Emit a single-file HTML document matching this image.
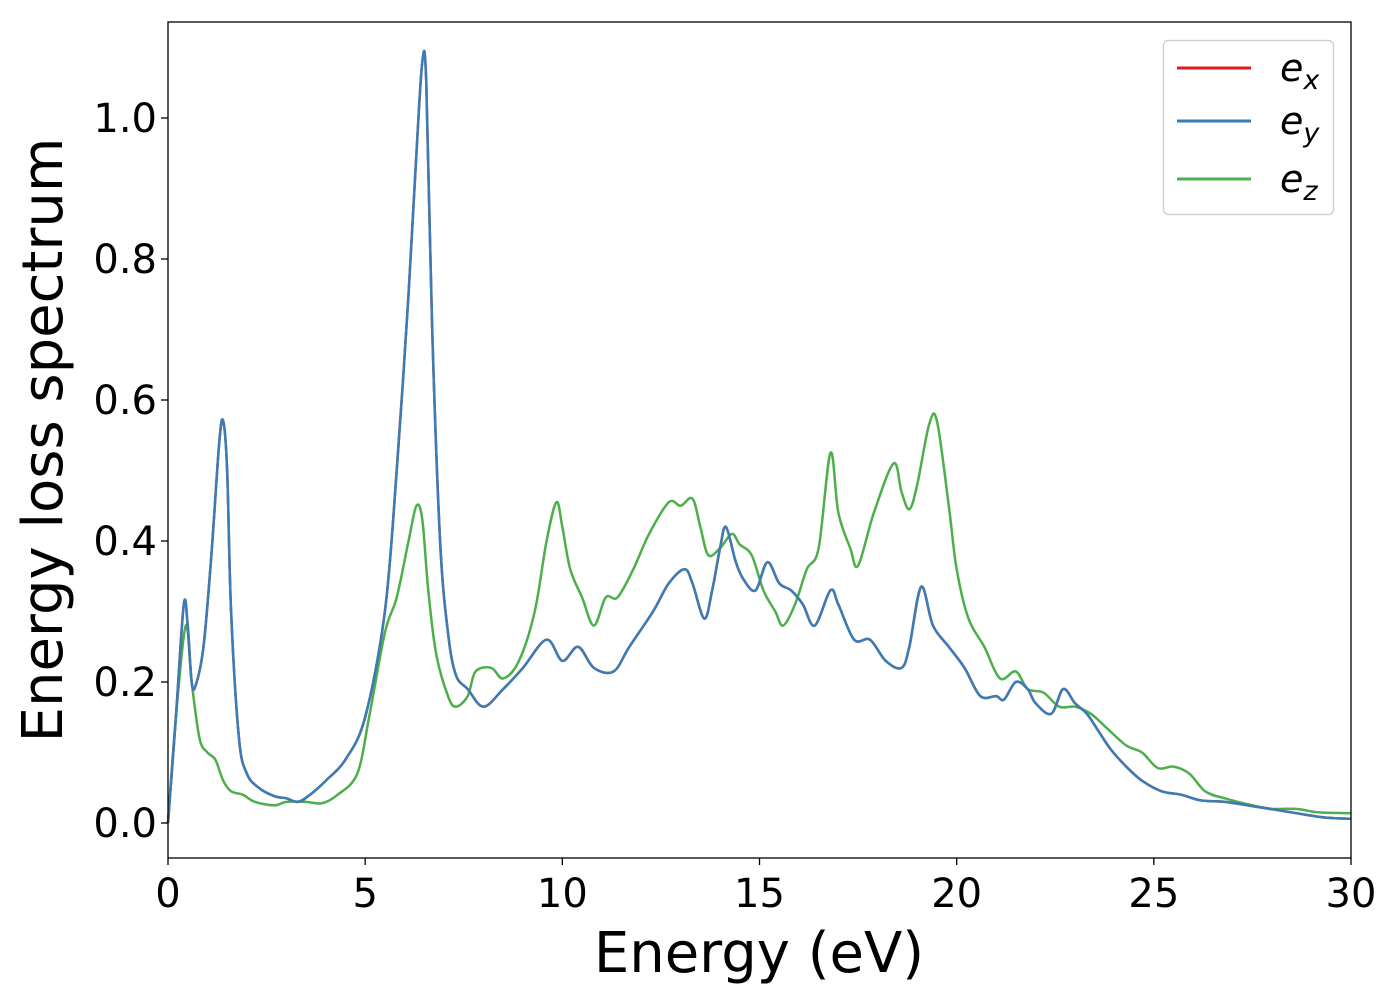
<!DOCTYPE html>
<html><head><meta charset="utf-8"><style>
body{margin:0;background:#fff}
svg text{font-family:"DejaVu Sans","Liberation Sans",sans-serif;fill:#000}
</style></head><body>
<svg id="chart" width="1400" height="1000" xmlns="http://www.w3.org/2000/svg">
<rect x="0" y="0" width="1400" height="1000" fill="#fff"/>
<g id="series"></g>
<rect x="168" y="22" width="1183" height="836" fill="none" stroke="#000" stroke-width="1.3"/>
<g id="axes"></g>
<text x="759" y="972" font-size="56" text-anchor="middle">Energy (eV)</text>
<text transform="translate(62,440) rotate(-90)" font-size="56" text-anchor="middle">Energy loss spectrum</text>
<g>
<rect x="1163.5" y="40.5" width="170" height="174" rx="5" fill="#fff" fill-opacity="0.8" stroke="#ccc" stroke-width="1.3"/>
<g><line x1="1177" y1="68" x2="1251" y2="68" stroke="#e41a1c" stroke-width="3"/><text x="1280" y="81" font-size="38" font-style="italic">e<tspan font-size="27" dy="8">x</tspan></text></g>
<g><line x1="1177" y1="121" x2="1251" y2="121" stroke="#377eb8" stroke-width="3"/><text x="1280" y="134" font-size="38" font-style="italic">e<tspan font-size="27" dy="8">y</tspan></text></g>
<g><line x1="1177" y1="179" x2="1251" y2="179" stroke="#4daf4a" stroke-width="3"/><text x="1280" y="192" font-size="38" font-style="italic">e<tspan font-size="27" dy="8">z</tspan></text></g>
</g>
</svg>
<script>
const xTicks=[0,5,10,15,20,25,30];
const yTicks=[0.0,0.2,0.4,0.6,0.8,1.0];
const yTickLabels=["0.0","0.2","0.4","0.6","0.8","1.0"];
const exyX=[0,0.2,0.4,0.5,0.6,0.7,0.9,1.1,1.3,1.4,1.5,1.6,1.8,2.0,2.3,2.7,3.0,3.3,3.6,4.0,4.5,5.0,5.5,5.8,6.1,6.3,6.45,6.55,6.7,6.9,7.1,7.3,7.6,8.0,8.5,9.0,9.6,10.0,10.4,10.8,11.3,11.7,12.3,12.7,13.1,13.3,13.6,13.8,14.0,14.15,14.4,14.6,14.9,15.2,15.5,15.8,16.1,16.4,16.8,17.0,17.4,17.8,18.2,18.6,18.8,19.1,19.4,19.8,20.2,20.6,21.0,21.2,21.5,21.8,22.0,22.4,22.7,23.0,23.3,23.6,23.9,24.3,24.7,25.2,25.7,26.2,26.8,27.5,28.5,29.3,30];
const exyY=[0,0.15,0.31,0.28,0.2,0.195,0.25,0.38,0.54,0.57,0.5,0.3,0.12,0.07,0.05,0.038,0.035,0.03,0.04,0.06,0.09,0.15,0.3,0.5,0.75,0.95,1.08,1.05,0.7,0.4,0.27,0.21,0.19,0.165,0.19,0.22,0.26,0.23,0.25,0.22,0.215,0.25,0.3,0.34,0.36,0.34,0.29,0.33,0.39,0.42,0.37,0.345,0.33,0.37,0.34,0.33,0.31,0.28,0.33,0.31,0.26,0.26,0.23,0.22,0.25,0.335,0.28,0.25,0.22,0.18,0.18,0.175,0.2,0.19,0.17,0.155,0.19,0.17,0.155,0.13,0.105,0.08,0.06,0.045,0.04,0.032,0.03,0.024,0.015,0.008,0.006];
const ezX=[0,0.2,0.45,0.6,0.8,1.0,1.2,1.4,1.6,1.9,2.2,2.7,3.0,3.5,3.9,4.3,4.8,5.1,5.5,5.8,6.1,6.3,6.45,6.6,6.8,7.1,7.3,7.6,7.8,8.2,8.5,8.9,9.3,9.6,9.85,10.0,10.2,10.5,10.8,11.1,11.4,11.8,12.2,12.7,13.0,13.3,13.5,13.7,14.0,14.3,14.5,14.8,15.1,15.4,15.6,15.9,16.2,16.5,16.8,17.0,17.3,17.5,17.9,18.4,18.6,18.8,19.0,19.3,19.5,19.8,20.0,20.3,20.7,21.1,21.5,21.8,22.2,22.6,23.0,23.4,23.8,24.3,24.7,25.1,25.5,25.9,26.3,26.8,27.5,28,28.6,29.2,30];
const ezY=[0,0.15,0.28,0.2,0.12,0.1,0.09,0.06,0.045,0.04,0.03,0.025,0.03,0.03,0.028,0.04,0.07,0.15,0.27,0.32,0.4,0.45,0.43,0.33,0.24,0.18,0.165,0.18,0.215,0.22,0.205,0.23,0.3,0.4,0.455,0.42,0.36,0.32,0.28,0.32,0.32,0.36,0.41,0.455,0.45,0.46,0.42,0.38,0.39,0.41,0.395,0.38,0.33,0.3,0.28,0.31,0.36,0.39,0.525,0.44,0.39,0.365,0.44,0.51,0.47,0.445,0.48,0.565,0.57,0.45,0.36,0.29,0.25,0.205,0.215,0.19,0.185,0.165,0.165,0.155,0.135,0.11,0.1,0.078,0.08,0.07,0.045,0.035,0.025,0.02,0.02,0.015,0.014];
const NS="http://www.w3.org/2000/svg";
const sx=v=>168+v*(1183/30);
const sy=v=>823-v*705;
const axes=document.getElementById('axes');
function mk(tag,attrs,parent){const e=document.createElementNS(NS,tag);for(const k in attrs)e.setAttribute(k,attrs[k]);parent.appendChild(e);return e;}
xTicks.forEach(t=>{
  const l=mk('line',{x1:sx(t),x2:sx(t),y1:858,y2:865,stroke:'#000','stroke-width':1.3},axes);
  
  
  const tx=mk('text',{x:sx(t),y:907,'font-size':40,'text-anchor':'middle'},axes);
  tx.textContent=t;
  
  
});
yTicks.forEach((t,i)=>{
  const l=mk('line',{x1:161,x2:168,y1:sy(t),y2:sy(t),stroke:'#000','stroke-width':1.3},axes);
  
  
  const tx=mk('text',{x:157,y:sy(t)+14,'font-size':40,'text-anchor':'end'},axes);
  tx.textContent=yTickLabels[i];
  
  
});
function pathD(xs,ys){
  const p=xs.map((x,i)=>[sx(x),sy(ys[i])]);
  let d='M'+p[0][0]+','+p[0][1];
  for(let i=0;i<p.length-1;i++){
    const p0=p[Math.max(0,i-1)],p1=p[i],p2=p[i+1],p3=p[Math.min(p.length-1,i+2)];
    const c1=[p1[0]+(p2[0]-p0[0])/6,p1[1]+(p2[1]-p0[1])/6];
    const c2=[p2[0]-(p3[0]-p1[0])/6,p2[1]-(p3[1]-p1[1])/6];
    d+=' C'+c1[0]+','+c1[1]+' '+c2[0]+','+c2[1]+' '+p2[0]+','+p2[1];
  }
  return d;
}
const g=document.getElementById('series');
const sEz=mk('path',{d:pathD(ezX,ezY),fill:'none',stroke:'#4daf4a','stroke-width':2.5},g);


const sEx=mk('path',{d:pathD(exyX,exyY),fill:'none',stroke:'#e41a1c','stroke-width':2.5},g);


const sEy=mk('path',{d:pathD(exyX,exyY),fill:'none',stroke:'#377eb8','stroke-width':2.5},g);


</script>
</body></html>
